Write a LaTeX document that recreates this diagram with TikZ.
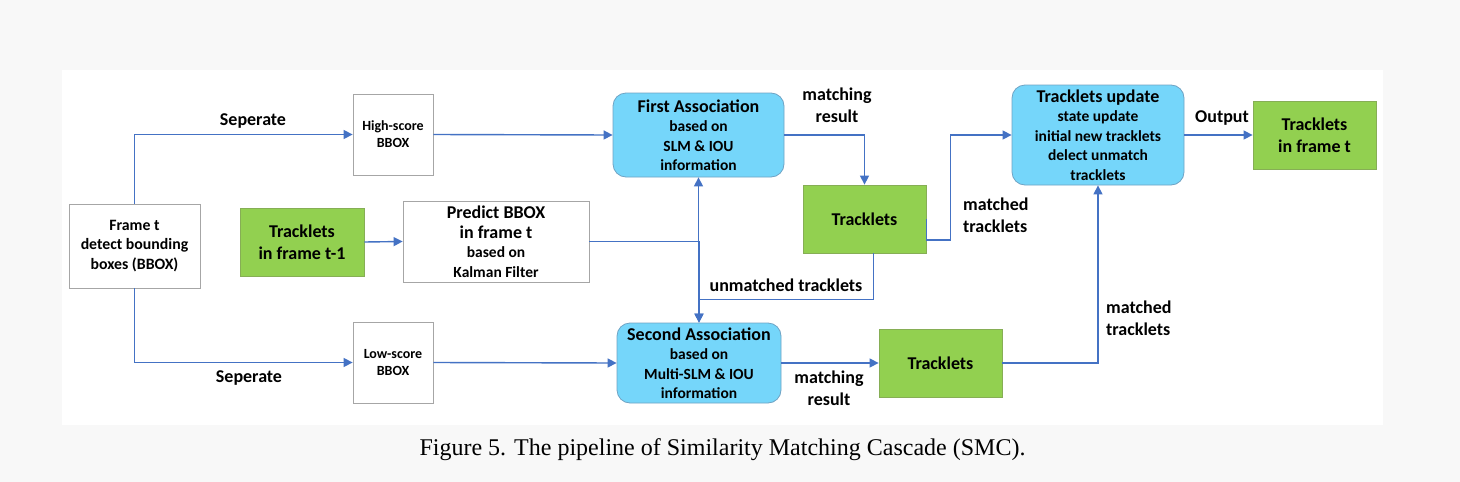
\documentclass[tikz,border=0pt]{standalone}
\usepackage{fontspec}
\setmainfont{Carlito}
\newfontfamily\capfont{Liberation Serif}
\usetikzlibrary{arrows.meta}
\definecolor{flowblue}{HTML}{4472C4}
\definecolor{trkgreen}{HTML}{92D050}
\definecolor{trkedge}{HTML}{86AE55}
\definecolor{assocblue}{HTML}{75D6FA}
\definecolor{assocedge}{HTML}{6FA3C4}
\definecolor{boxedge}{HTML}{A6A6A6}
\definecolor{pagegray}{HTML}{F8F8F8}
\newcommand\fbig{\fontsize{18}{22}\selectfont\bfseries}
\newcommand\fmid{\fontsize{15.8}{19.5}\selectfont\bfseries}
\newcommand\fsub{\fontsize{15.5}{19.5}\selectfont\bfseries}
\newcommand\ftiny{\fontsize{14}{17}\selectfont\bfseries}
\tikzset{
  plainbox/.style={draw=boxedge, fill=white, line width=0.8pt, align=center, inner sep=0pt},
  trkbox/.style={draw=trkedge, fill=trkgreen, line width=0.8pt, align=center, inner sep=0pt,
    minimum width=123pt, minimum height=68pt, font=\fbig},
  assocbox/.style={draw=assocedge, fill=assocblue, line width=0.8pt, rounded corners=13pt,
    align=center, inner sep=0pt, font=\fsub},
  flow/.style={draw=flowblue, line width=1.4pt, -{Triangle[length=9pt,width=9pt]}},
  lbl/.style={align=center, inner sep=0pt, font=\fbig}
}
\begin{document}
\begin{tikzpicture}[x=1pt,y=-1pt]
\useasboundingbox (0,0) rectangle (1460,482);
\fill[pagegray] (0,0) rectangle (1460,482);
\fill[white] (62,70) rectangle (1383,425);
% boxes
\node[plainbox, minimum width=131pt, minimum height=84pt, font=\fmid] (frame) at (134.5,246) {Frame t\\detect bounding\\boxes (BBOX)};
\node[plainbox, minimum width=80pt, minimum height=81pt, font=\ftiny] (high) at (393,134.5) {High-score\\BBOX};
\node[plainbox, minimum width=80pt, minimum height=81pt, font=\ftiny] (low) at (393,362.5) {Low-score\\BBOX};
\node[trkbox, minimum width=124pt] (prev) at (302,242) {Tracklets\\in frame t-1};
\node[plainbox, minimum width=186pt, minimum height=81pt, font=\fsub] (predict) at (496,241.5) {{\fbig Predict BBOX}\\{\fbig in frame t}\\based on\\Kalman Filter};
\node[assocbox, minimum width=171pt, minimum height=84pt] (first) at (698.5,135) {{\fbig First Association}\\based on\\SLM \& IOU\\information};
\node[assocbox, minimum width=164pt, minimum height=80pt] (second) at (699,363) {{\fbig Second Association}\\based on\\Multi-SLM \& IOU\\information};
\node[trkbox] (trkA) at (864.5,219) {Tracklets};
\node[trkbox] (trkB) at (940.5,363) {Tracklets};
\node[assocbox, minimum width=172pt, minimum height=100pt] (update) at (1098,135) {{\fbig Tracklets update}\\state update\\initial new tracklets\\delect unmatch\\tracklets};
\node[trkbox] (out) at (1314.5,135) {Tracklets\\in frame t};
% labels
\node[lbl] (sepA) at (253,121) {Seperate};
\node[lbl] (sepB) at (249,378) {Seperate};
\node[lbl] (resA) at (837,105) {matching\\result};
\node[lbl] (resB) at (829,388) {matching\\result};
\node[lbl] (unm) at (786,285) {unmatched tracklets};
\node[lbl, align=left, anchor=west] (matA) at (963,215) {matched\\tracklets};
\node[lbl, align=left, anchor=west] (matB) at (1106,318) {matched\\tracklets};
\node[lbl] (outlbl) at (1222,118) {Output};
% connectors
\draw[flow] (frame.north) |- (high.west);
\draw[flow] (frame.south) |- (low.west);
\draw[flow] (high.east) -- (first.west);
\draw[flow] (low.east) -- (second.west);
\draw[flow] (prev.east) -- (predict.west);
\draw[flow] (predict.east) -| (first.south);
\draw[flow] (predict.east) -| (second.north);
\draw[flow] ([xshift=9pt]trkA.south) -- ++(0,46) -| (second.north);
\draw[flow] (first.east) -| (trkA.north);
\draw[flow] (trkA.east) -- ++(0,21) -- ++(24,0) |- (update.west);
\draw[flow] (second.east) -- (trkB.west);
\draw[flow] (trkB.east) -| (update.south);
\draw[flow] (update.east) -- (out.west);
% caption
\node[font=\capfont\fontsize{24}{28}\selectfont, anchor=base] (cap) at (722.5,455.5) {Figure 5. The pipeline of Similarity Matching Cascade (SMC).};
\end{tikzpicture}
\end{document}
